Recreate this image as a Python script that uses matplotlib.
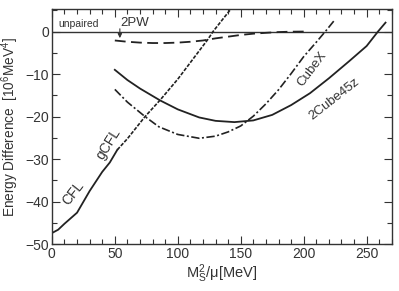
import numpy as np
import matplotlib.pyplot as plt
from matplotlib.ticker import MultipleLocator

plt.rcParams['font.family'] = ['Liberation Sans', 'DejaVu Sans']
plt.rcParams['mathtext.fontset'] = 'custom'
plt.rcParams['mathtext.rm'] = 'Liberation Sans'
plt.rcParams['mathtext.it'] = 'Liberation Sans'

# CFL (solid) then gCFL (fine dashes)
cfl_x = [0, 5, 10, 20, 30, 40, 46, 52]
cfl_y = [-47.4, -46.6, -45.2, -42.6, -37.5, -33.0, -30.8, -27.8]
gcfl_x = [52, 60, 74, 86, 100, 112, 124, 128, 136, 143]
gcfl_y = [-27.8, -25.2, -20.0, -16.1, -11.2, -6.5, -1.8, 0.0, 3.0, 5.6]

# 2PW (long dashes)
pw_x = [50, 60, 70, 80, 90, 100, 110, 120, 130, 140, 150, 160, 170, 180, 190, 200]
pw_y = [-2.1, -2.4, -2.6, -2.7, -2.7, -2.6, -2.4, -2.1, -1.6, -1.2, -0.8, -0.5,
        -0.3, -0.12, -0.03, 0.0]

# 2Cube45z (solid)
c45_x = [50, 60, 70, 86, 100, 117, 130, 145, 160, 175, 190, 205, 220, 236, 250, 259, 265]
c45_y = [-9.0, -11.4, -13.4, -16.2, -18.3, -20.2, -21.0, -21.3, -20.9, -19.6, -17.3,
         -14.5, -11.0, -7.0, -3.4, 0.0, 2.1]

# CubeX (dash-dot)
cx_x = [50, 60, 74, 85, 100, 117, 130, 140, 150, 160, 170, 180, 190, 200, 210, 218, 224]
cx_y = [-13.6, -16.6, -20.0, -22.4, -24.2, -25.1, -24.6, -23.6, -22.2, -19.9, -17.0,
        -13.7, -9.9, -5.9, -2.5, 0.3, 2.5]

fig = plt.figure(figsize=(3.99, 2.91), dpi=100)
ax = fig.add_axes([0.130, 0.161, 0.852, 0.808])

ax.axhline(0, color='#333333', lw=1.0)
ax.plot(cfl_x, cfl_y, color='#222222', lw=1.3)
ax.plot(gcfl_x, gcfl_y, color='#222222', lw=1.2, dashes=(2.2, 0.9))
ax.plot(pw_x, pw_y, color='#222222', lw=1.3, dashes=(6, 3))
ax.plot(c45_x, c45_y, color='#222222', lw=1.3)
ax.plot(cx_x, cx_y, color='#222222', lw=1.2, dashes=(5, 1.5, 1.2, 1.5))

ax.set_xlim(0, 270)
ax.set_ylim(-50, 5.3)
ax.xaxis.set_major_locator(MultipleLocator(50))
ax.xaxis.set_minor_locator(MultipleLocator(10))
ax.yaxis.set_major_locator(MultipleLocator(10))
ax.yaxis.set_minor_locator(MultipleLocator(5))
ax.tick_params(which='both', direction='in', top=True, right=True,
               labelsize=10, colors='#333333', pad=2)
ax.tick_params(which='major', length=6, width=0.8)
ax.tick_params(which='minor', length=3.5, width=0.8)
for s in ax.spines.values():
    s.set_color('#333333')
    s.set_linewidth(1.0)

ax.set_xlabel(r'M$_S^2$/$\mathrm{\mu}$[MeV]', fontsize=10.5, color='#333333', labelpad=1)
ax.set_ylabel(r'Energy Difference  [10$^6$MeV$^4$]', fontsize=9.8, color='#333333', labelpad=3)

ax.text(5, 1.0, 'unpaired', fontsize=7.5, color='#333333')
ax.text(54, 1.2, '2PW', fontsize=9.5, color='#333333')
ax.annotate('', xy=(54, -2.2), xytext=(54, 1.3),
            arrowprops=dict(arrowstyle='-|>', color='#333333', lw=0.8,
                            mutation_scale=6))
ax.text(17, -38, 'CFL', fontsize=10, color='#333333', rotation=52,
        ha='center', va='center')
ax.text(45, -26.3, 'gCFL', fontsize=10, color='#333333', rotation=58,
        ha='center', va='center')
ax.text(207, -8.8, 'CubeX', fontsize=9.5, color='#333333', rotation=53,
        ha='center', va='center')
ax.text(224, -16, '2Cube45z', fontsize=9.5, color='#333333', rotation=38,
        ha='center', va='center')

fig.savefig('out.png', dpi=100)
